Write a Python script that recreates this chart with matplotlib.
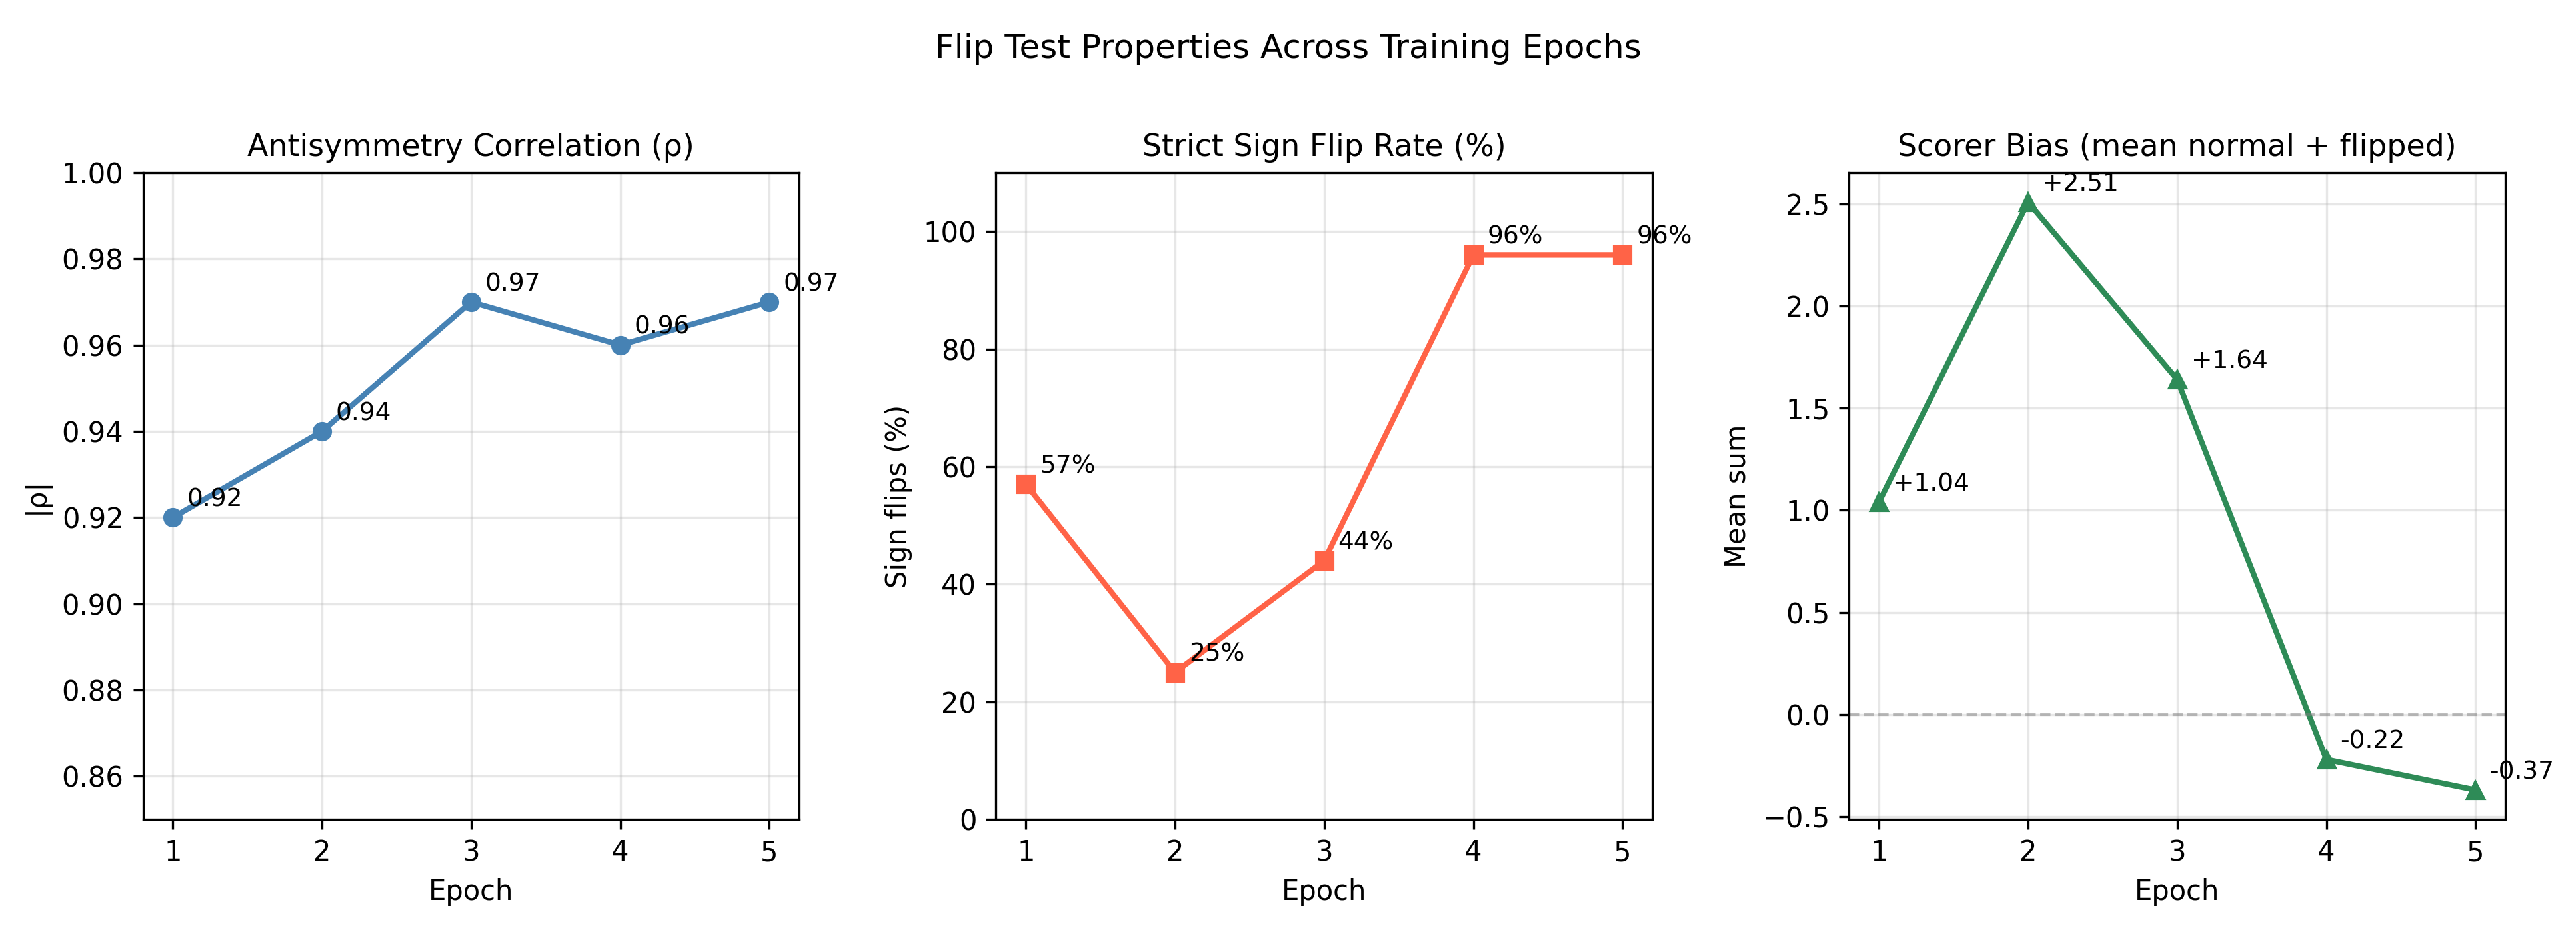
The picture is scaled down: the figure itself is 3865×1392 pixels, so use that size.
import matplotlib
matplotlib.use("Agg")
import matplotlib.pyplot as plt

epochs = [1, 2, 3, 4, 5]
rho = [0.92, 0.94, 0.97, 0.96, 0.97]
flip_rate = [57, 25, 44, 96, 96]
bias = [1.04, 2.51, 1.64, -0.22, -0.37]

fig, axes = plt.subplots(1, 3, figsize=(3865 / 300, 1392 / 300), dpi=300)
fig.subplots_adjust(left=0.0555, right=0.9726, top=0.814, bottom=0.117, wspace=0.30)
fig.suptitle("Flip Test Properties Across Training Epochs", fontsize=12, y=0.965)

# panel 1
ax = axes[0]
ax.plot(epochs, rho, "o-", color="steelblue", linewidth=2, markersize=6)
for x, y in zip(epochs, rho):
    ax.annotate(f"{y:.2f}", (x, y), textcoords="offset points", xytext=(5, 4), fontsize=9)
ax.set_title("Antisymmetry Correlation (ρ)", fontsize=11)
ax.set_xlabel("Epoch")
ax.set_ylabel("|ρ|")
ax.set_ylim(0.85, 1.0)
ax.set_xticks(epochs)
ax.grid(True, alpha=0.3)

# panel 2
ax = axes[1]
ax.plot(epochs, flip_rate, "s-", color="tomato", linewidth=2, markersize=6)
for x, y in zip(epochs, flip_rate):
    ax.annotate(f"{y}%", (x, y), textcoords="offset points", xytext=(5, 4), fontsize=9)
ax.set_title("Strict Sign Flip Rate (%)", fontsize=11)
ax.set_xlabel("Epoch")
ax.set_ylabel("Sign flips (%)")
ax.set_ylim(0, 110)
ax.set_xticks(epochs)
ax.grid(True, alpha=0.3)

# panel 3
ax = axes[2]
ax.plot(epochs, bias, "^-", color="seagreen", linewidth=2, markersize=6)
for x, y in zip(epochs, bias):
    ax.annotate(f"{y:+.2f}", (x, y), textcoords="offset points", xytext=(5, 4), fontsize=9)
ax.axhline(0, color="gray", linestyle="--", alpha=0.5, linewidth=1)
ax.set_title("Scorer Bias (mean normal + flipped)", fontsize=11)
ax.set_xlabel("Epoch")
ax.set_ylabel("Mean sum")
ax.set_xticks(epochs)
ax.grid(True, alpha=0.3)

fig.savefig("out.png", dpi=300)
